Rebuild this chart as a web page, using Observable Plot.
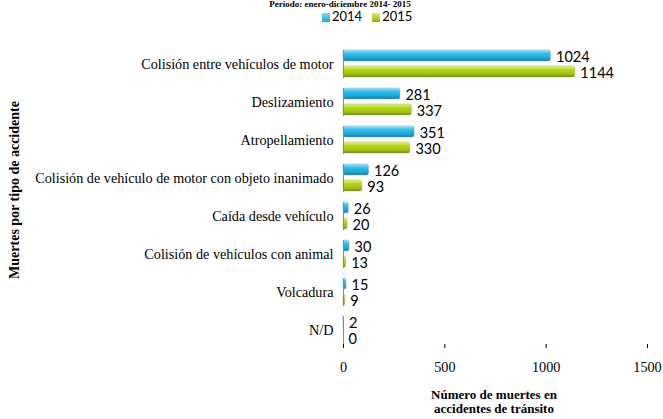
<!DOCTYPE html>
<html>
<head>
<meta charset="utf-8">
<script src="https://cdn.jsdelivr.net/npm/d3@7"></script>
<script src="https://cdn.jsdelivr.net/npm/@observablehq/plot@0.6"></script>
<style>
  html, body { margin: 0; padding: 0; background: #fff; }
  #wrap { position: relative; width: 663px; height: 419px; overflow: hidden; }
  .abs { position: absolute; white-space: nowrap; }
  #title { top: 0px; left: 0; width: 680px; text-align: center; font: bold 9px/9px "Liberation Serif", serif; color: #000; }
  #legend { top: 10px; left: 322px; font: 13px/13px Lato, "Liberation Sans", sans-serif; color: #000; }
  #legend span.sw { display: inline-block; width: 8px; height: 9px; vertical-align: -1px; margin-right: 2px; }
  #ylab { left: 15px; top: 190px; transform: translate(-50%, -50%) rotate(-90deg); font: bold 14px "Liberation Serif", serif; color: #000; }
  #xlab { left: 494px; top: 388px; transform: translateX(-50%); text-align: center; font: bold 13px/14px "Liberation Serif", serif; color: #000; }
</style>
</head>
<body>
<div id="wrap">
  <div id="title" class="abs">Periodo: enero-diciembre 2014- 2015</div>
  <div id="legend" class="abs"><span class="sw" style="background:linear-gradient(#7fd8f6,#1aa6d8)"></span>2014&nbsp;&nbsp;&nbsp;<span class="sw" style="background:linear-gradient(#d6ec5c,#94b80c)"></span>2015</div>
  <div id="ylab" class="abs">Muertes por tipo de accidente</div>
  <div id="xlab" class="abs">Número de muertes en<br>accidentes de tránsito</div>
  <div id="chart"></div>
</div>
<script>
const categories = [
  "Colisión entre vehículos de motor",
  "Deslizamiento",
  "Atropellamiento",
  "Colisión de vehículo de motor con objeto inanimado",
  "Caída desde vehículo",
  "Colisión de vehículos con animal",
  "Volcadura",
  "N/D"
];
const years = ["2014", "2015"];
const values2014 = [1024, 281, 351, 126, 26, 30, 15, 2];
const values2015 = [1144, 337, 330, 93, 20, 13, 9, 0];
const xTicks = [0, 500, 1000, 1500];

const data = [];
categories.forEach((c, i) => {
  data.push({category: c, year: years[0], value: values2014[i]});
  data.push({category: c, year: years[1], value: values2015[i]});
});

const chart = Plot.plot({
  width: 663,
  height: 419,
  marginLeft: 343,
  marginRight: 16,
  marginTop: 43,
  marginBottom: 67,
  style: {background: "transparent", fontFamily: "'Liberation Serif', serif", fontSize: "14.2px", color: "#000"},
  x: {domain: [0, 1500], ticks: xTicks, tickFormat: d => String(d), label: null, tickSize: 4, tickPadding: 13},
  fy: {domain: categories, label: null, paddingInner: 0.26, paddingOuter: 0.13, axis: "left", tickSize: 0, tickPadding: 10},
  y: {domain: years, axis: null, paddingInner: 0.3, paddingOuter: 0},
  color: {domain: years, range: ["url(#g2014)", "url(#g2015)"]},
  marks: [
    Plot.barX(data, {fy: "category", y: "year", x: "value", fill: "year", stroke: "#9a9a9a", strokeWidth: 0.6, strokeOpacity: 0.7, rx: 2}),
    Plot.text(data, {fy: "category", y: "year", x: "value", text: d => String(d.value), textAnchor: "start", dx: 5, dy: 1, fontSize: 14.5, fontFamily: "Lato, 'Liberation Sans', sans-serif", fill: "#000"}),
    Plot.ruleX([0], {stroke: "#888", strokeWidth: 1}),
    Plot.ruleY([0], {stroke: "#888", strokeWidth: 1, facet: "exclude"})
  ]
});

const svg = d3.select(chart);
const defs = svg.insert("defs", ":first-child");
function grad(id, stops) {
  const g = defs.append("linearGradient").attr("id", id).attr("x1", 0).attr("y1", 0).attr("x2", 0).attr("y2", 1);
  stops.forEach(([o, c]) => g.append("stop").attr("offset", o).attr("stop-color", c));
}
grad("g2014", [[0, "#a6e7fb"], [0.3, "#34c2ef"], [0.75, "#16a3d6"], [1, "#0c7fb0"]]);
grad("g2015", [[0, "#e8f488"], [0.3, "#b8da1e"], [0.75, "#9cc00c"], [1, "#718c04"]]);

svg.style("position", "absolute").style("left", "0").style("top", "0");
document.getElementById("chart").appendChild(chart);
</script>
</body>
</html>
